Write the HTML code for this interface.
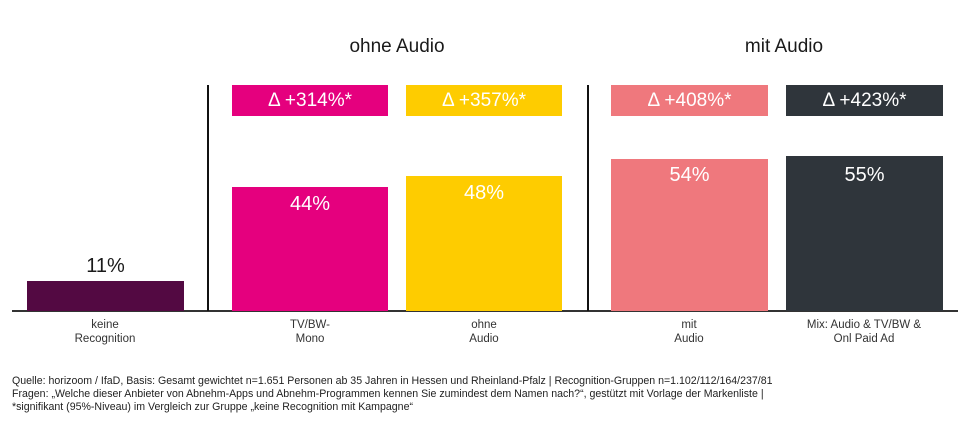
<!DOCTYPE html>
<html><head><meta charset="utf-8"><style>
body{margin:0;background:#fff;width:970px;height:434px;position:relative;overflow:hidden;font-family:"Liberation Sans",sans-serif;color:#1a1a1a}
.a{position:absolute}
.bar{position:absolute;bottom:123px}
.v{position:absolute;width:100%;text-align:center;color:#fff;font-size:20px}
.d{position:absolute;top:85px;height:31px;color:#fff;font-size:19px;text-align:center;line-height:31px}
.lab{position:absolute;top:318px;width:170px;text-align:center;font-size:11.5px;line-height:14px;color:#333}
.h{position:absolute;top:36px;font-size:19px;text-align:center;width:200px}
.f{position:absolute;left:12px;font-size:10.6px;color:#222;white-space:nowrap}
</style></head><body>
<div class="h" style="left:297px">ohne Audio</div>
<div class="h" style="left:684px">mit Audio</div>
<div class="a" style="left:12px;top:310px;width:946px;height:2px;background:#333"></div>
<div class="a" style="left:207px;top:85px;width:1.5px;height:226px;background:#111"></div>
<div class="a" style="left:587px;top:85px;width:1.5px;height:226px;background:#111"></div>

<div class="bar" style="left:27px;width:157px;top:281px;height:30px;background:#530942"></div>
<div class="a" style="left:27px;width:157px;top:255px;text-align:center;font-size:20px">11%</div>

<div class="bar" style="left:232px;width:156px;top:187px;height:124px;background:#e5007e"><div class="v" style="top:6px">44%</div></div>
<div class="bar" style="left:406px;width:156px;top:176px;height:135px;background:#fecc00"><div class="v" style="top:6px">48%</div></div>
<div class="bar" style="left:611px;width:157px;top:159px;height:152px;background:#ef787d"><div class="v" style="top:5px">54%</div></div>
<div class="bar" style="left:786px;width:157px;top:156px;height:155px;background:#2f353b"><div class="v" style="top:8px">55%</div></div>

<div class="d" style="left:232px;width:156px;background:#e5007e">Δ +314%*</div>
<div class="d" style="left:406px;width:156px;background:#fecc00">Δ +357%*</div>
<div class="d" style="left:611px;width:157px;background:#ef787d">Δ +408%*</div>
<div class="d" style="left:786px;width:157px;background:#2f353b">Δ +423%*</div>

<div class="lab" style="left:20px">keine<br>Recognition</div>
<div class="lab" style="left:225px">TV/BW-<br>Mono</div>
<div class="lab" style="left:399px">ohne<br>Audio</div>
<div class="lab" style="left:604px">mit<br>Audio</div>
<div class="lab" style="left:779px">Mix: Audio &amp; TV/BW &amp;<br>Onl Paid Ad</div>

<div class="f" style="top:375px">Quelle: horizoom / IfaD, Basis: Gesamt gewichtet n=1.651 Personen ab 35 Jahren in Hessen und Rheinland-Pfalz | Recognition-Gruppen n=1.102/112/164/237/81</div>
<div class="f" style="top:388px">Fragen: „Welche dieser Anbieter von Abnehm-Apps und Abnehm-Programmen kennen Sie zumindest dem Namen nach?“, gestützt mit Vorlage der Markenliste |</div>
<div class="f" style="top:401px">*signifikant (95%-Niveau) im Vergleich zur Gruppe „keine Recognition mit Kampagne“</div>
</body></html>
